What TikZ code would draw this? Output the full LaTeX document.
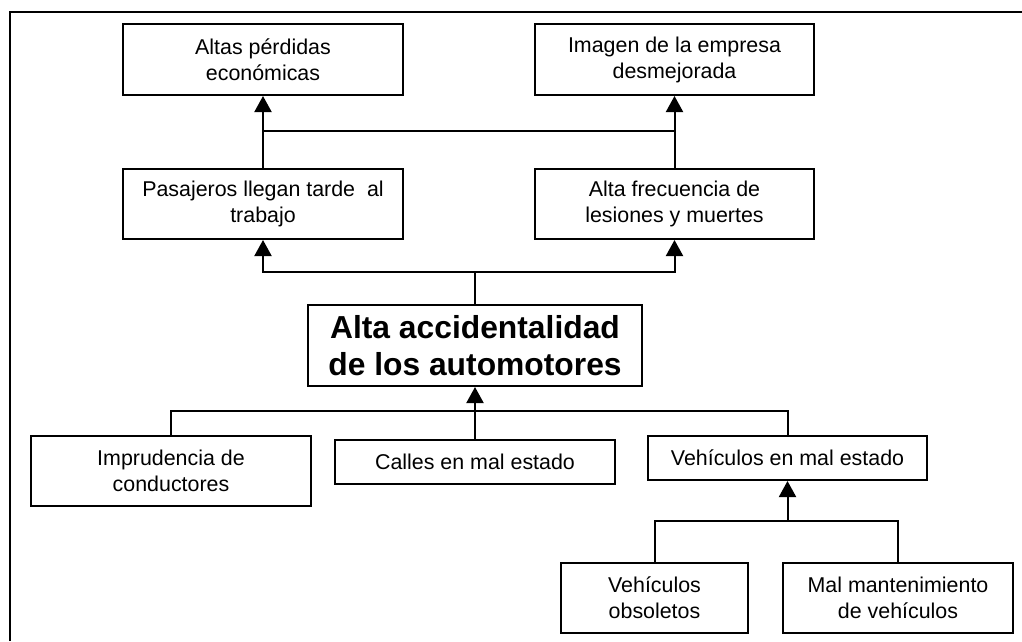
\documentclass[tikz,border=0pt]{standalone}
\usepackage{fontspec}
\setmainfont{Liberation Sans}
\usetikzlibrary{arrows.meta}
\begin{document}
\begin{tikzpicture}[x=1pt,y=-1pt,
  box/.style={draw,line width=2pt,rectangle,inner sep=0pt,align=center,
    font=\fontsize{21.4}{26}\selectfont},
  bigbox/.style={draw,line width=2pt,rectangle,inner sep=0pt,align=center,
    font=\fontsize{31.8}{37}\selectfont\bfseries},
  conn/.style={line width=2pt},
  arr/.style={line width=2pt,-{Triangle[length=16pt,width=17pt]}},
  frame/.style={line width=2.5pt}]
\useasboundingbox (0,0) rectangle (1022,641);
\draw[frame] (10,641) -- (10,12) -- (1022,12);

\node[box,minimum width=280,minimum height=71] (A1) at (263,59.5) {Altas pérdidas\\económicas};
\node[box,minimum width=279,minimum height=71] (A2) at (674.5,59.5) {Imagen de la empresa\\desmejorada};
\node[box,minimum width=280,minimum height=70] (B1) at (263,204) {Pasajeros llegan tarde\ \ al\\trabajo};
\node[box,minimum width=279,minimum height=70] (B2) at (674.5,204) {Alta frecuencia de\\lesiones y muertes};
\node[bigbox,minimum width=334,minimum height=81] (C) at (475,345.5) {Alta accidentalidad\\de los automotores};
\node[box,minimum width=280,minimum height=70] (D1) at (171,471) {Imprudencia de\\conductores};
\node[box,minimum width=280,minimum height=44] (D2) at (475,462) {Calles en mal estado};
\node[box,minimum width=279,minimum height=44] (D3) at (787.5,458) {Vehículos en mal estado};
\node[box,minimum width=187,minimum height=70] (E1) at (654.5,598) {Vehículos\\obsoletos};
\node[box,minimum width=230,minimum height=70] (E2) at (898,598) {Mal mantenimiento\\de vehículos};

\coordinate (j1) at (0,131);
\coordinate (j2) at (0,272);
\coordinate (j3) at (0,411);
\coordinate (j4) at (0,521);

% effects level 2 -> level 1
\draw[arr] (B1.north) -- (A1.south);
\draw[arr] (B2.north) -- (A2.south);
\draw[conn] (A1.south |- j1) -- (A2.south |- j1);

% central -> effects
\draw[conn] (C.north) -- (C.north |- j2);
\draw[arr] (C.north |- j2) -| (B1.south);
\draw[arr] (C.north |- j2) -| (B2.south);

% causes -> central
\draw[conn] (D1.north) |- (D3.north |- j3) -- (D3.north);
\draw[arr] (D2.north) -- (C.south);

% sub-causes -> vehicles
\draw[conn] (E1.north) |- (E2.north |- j4) -- (E2.north);
\draw[arr] (D3.south |- j4) -- (D3.south);
\end{tikzpicture}
\end{document}
